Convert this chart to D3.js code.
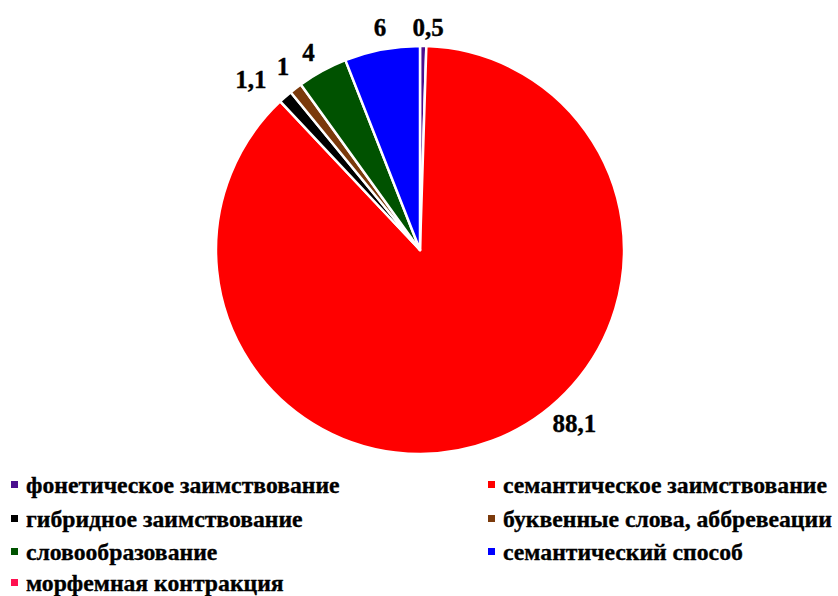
<!DOCTYPE html>
<html>
<head>
<meta charset="utf-8">
<script src="https://cdn.jsdelivr.net/npm/d3@7"></script>
<style>
  html, body { margin: 0; padding: 0; background: #fff; }
  svg { display: block; }
  text { font-family: "Liberation Serif", "Times New Roman", serif; font-weight: bold; fill: #000; stroke: #000; stroke-width: 0.35px; }
</style>
</head>
<body>
<svg id="chart" width="838" height="596"></svg>
<script>
// Способы образования терминов, %
const categories = [
  "фонетическое заимствование",
  "семантическое заимствование",
  "гибридное заимствование",
  "буквенные слова, аббревеации",
  "словообразование",
  "семантический способ",
  "морфемная контракция"
];
const values = [0.5, 88.1, 1.1, 1, 4, 6, 0];
const valueLabels = ["0,5", "88,1", "1,1", "1", "4", "6", ""];
const colors = ["#4b0f8f", "#ff0000", "#000000", "#7b3a0c", "#005200", "#0000ff", "#ff1050"];

const svg = d3.select("#chart");
const cx = 420, cy = 250, radius = 204;

const data = categories.map((c, i) => ({ name: c, value: values[i], label: valueLabels[i], color: colors[i] }));

const pie = d3.pie().sort(null).value(d => d.value);
const arcs = pie(data);
const arc = d3.arc().innerRadius(0).outerRadius(radius);

const g = svg.append("g").attr("transform", `translate(${cx},${cy})`);

g.selectAll("path.slice")
  .data(arcs.filter(a => a.data.value > 0))
  .join("path")
  .attr("class", "slice")
  .attr("d", arc)
  .attr("fill", d => d.data.color)
  .attr("stroke", "#fff")
  .attr("stroke-width", 2.5)
  .attr("stroke-linejoin", "round");

// Подписи значений: снаружи круга, с небольшими поправками угла и радиуса
const labelTweak = {
  "0,5": { da: 1.2, r: 223 },
  "88,1": { da: -21, r: 232 },
  "1,1": { da: -3.5, r: 240 },
  "1": { da: 0.8, r: 229 },
  "4": { da: -0.8, r: 227 },
  "6": { da: 0.5, r: 226 }
};
g.selectAll("text.value")
  .data(arcs.filter(a => a.data.label))
  .join("text")
  .attr("class", "value")
  .attr("text-anchor", "middle")
  .attr("dy", "0.35em")
  .style("font-size", "25px")
  .attr("x", d => {
    const t = labelTweak[d.data.label];
    const a = (d.startAngle + d.endAngle) / 2 + t.da * Math.PI / 180;
    return Math.sin(a) * t.r;
  })
  .attr("y", d => {
    const t = labelTweak[d.data.label];
    const a = (d.startAngle + d.endAngle) / 2 + t.da * Math.PI / 180;
    return -Math.cos(a) * t.r;
  })
  .text(d => d.data.label);

// Легенда в две колонки
const legend = svg.append("g");
const colX = [11, 488];
const rowY = [485, 519, 552, 583];
const items = legend.selectAll("g.item")
  .data(data)
  .join("g")
  .attr("class", "item")
  .attr("transform", (d, i) => `translate(${colX[i % 2]},${rowY[Math.floor(i / 2)]})`);

items.append("rect")
  .attr("x", 0).attr("y", -4)
  .attr("width", 7).attr("height", 7)
  .attr("fill", d => d.color);

items.append("text")
  .attr("x", 15)
  .attr("dy", "0.33em")
  .style("font-size", "23.7px")
  .text(d => d.name);
</script>
</body>
</html>
